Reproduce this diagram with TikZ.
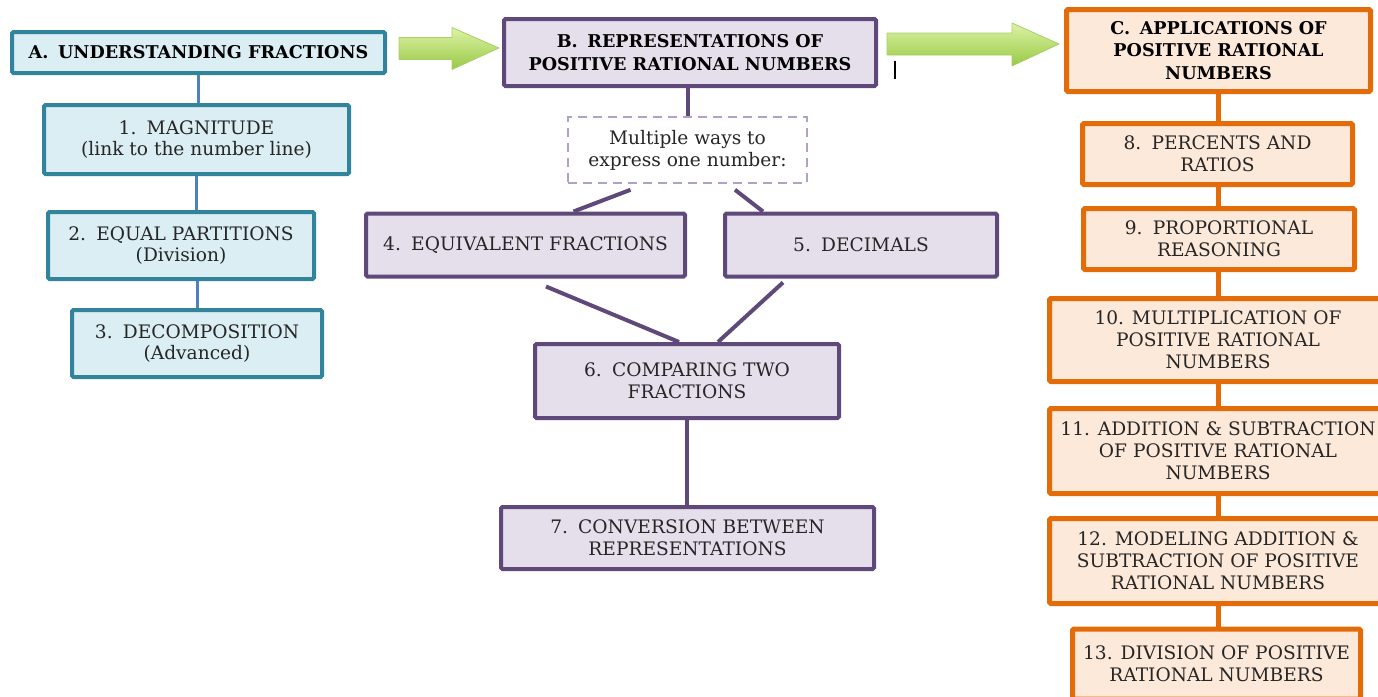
\documentclass[tikz,border=0pt]{standalone}
\usepackage{fontspec}
\setmainfont{DejaVu Serif}
\usetikzlibrary{calc,backgrounds}

\definecolor{tealline}{HTML}{31849B}
\definecolor{tealfill}{HTML}{DAEEF3}
\definecolor{bluelink}{HTML}{4F81BD}
\definecolor{purpline}{HTML}{5F497A}
\definecolor{purpfill}{HTML}{E5DFEC}
\definecolor{purpdash}{HTML}{B2A1C7}
\definecolor{orgline}{HTML}{E36C09}
\definecolor{orgfill}{HTML}{FDE9D9}
\definecolor{txt}{HTML}{262626}
\definecolor{greentop}{HTML}{DDF3A6}
\definecolor{greenbot}{HTML}{98C944}
\definecolor{greenedge}{HTML}{A9CF6A}

\tikzset{
  box/.style={draw, rounded corners=1.5pt, align=center, inner sep=0pt,
    text=txt, font=\fontsize{18.6}{21.8}\selectfont},
  headbox/.style={box, font=\fontsize{17.6}{22.5}\selectfont\bfseries, text=black},
  tealbox/.style={draw=tealline, fill=tealfill, line width=4pt},
  purpbox/.style={draw=purpline, fill=purpfill, line width=4pt},
  orgbox/.style={draw=orgline, fill=orgfill, line width=5pt},
  notebox/.style={box, draw=purpdash, line width=1.6pt, dash pattern=on 9pt off 6pt,
    rounded corners=0pt, fill=white},
  bluelinkline/.style={draw=bluelink, line width=3pt},
  purplinkline/.style={draw=purpline, line width=4pt},
  orglinkline/.style={draw=orgline, line width=5pt},
  blockarrow/.style={top color=greentop, bottom color=greenbot, draw=greenedge,
    line width=0.8pt, line join=round},
}

\begin{document}
\begin{tikzpicture}[x=1pt, y=-1pt]
\useasboundingbox (0,0) rectangle (1378,696);

% ---- column A: understanding fractions
\node[headbox, tealbox, minimum width=373, minimum height=41] (a) at (198.5,52.5)
  {A.\hspace{0.55em}UNDERSTANDING FRACTIONS};
\node[box, tealbox, minimum width=305, minimum height=69] (n1) at (196.5,139.5)
  {1.\hspace{0.55em}MAGNITUDE\\(link to the number line)};
\node[box, tealbox, minimum width=266, minimum height=67] (n2) at (181,245.5)
  {2.\hspace{0.55em}EQUAL PARTITIONS\\(Division)};
\node[box, tealbox, minimum width=250, minimum height=67] (n3) at (197,343.5)
  {3.\hspace{0.55em}DECOMPOSITION\\(Advanced)};

% ---- column B: representations
\node[headbox, purpbox, minimum width=372, minimum height=67] (b) at (690,52.5)
  {B.\hspace{0.55em}REPRESENTATIONS OF\\POSITIVE RATIONAL NUMBERS};
\node[notebox, minimum width=239, minimum height=66] (d) at (687.5,150)
  {Multiple ways to\\express one number:};
\node[box, purpbox, minimum width=319, minimum height=63] (n4) at (525.5,245)
  {4.\hspace{0.55em}EQUIVALENT FRACTIONS};
\node[box, purpbox, minimum width=272, minimum height=63] (n5) at (861,245)
  {5.\hspace{0.55em}DECIMALS};
\node[box, purpbox, minimum width=304, minimum height=74] (n6) at (687,381)
  {6.\hspace{0.55em}COMPARING TWO\\FRACTIONS};
\node[box, purpbox, minimum width=373, minimum height=62] (n7) at (687.5,538)
  {7.\hspace{0.55em}CONVERSION BETWEEN\\REPRESENTATIONS};

% ---- column C: applications
\node[headbox, orgbox, minimum width=304, minimum height=82] (c) at (1218.5,50.5)
  {C.\hspace{0.55em}APPLICATIONS OF\\POSITIVE RATIONAL\\NUMBERS};
\node[box, orgbox, minimum width=270, minimum height=61] (n8) at (1217.5,154)
  {8.\hspace{0.55em}PERCENTS AND\\RATIOS};
\node[box, orgbox, minimum width=271, minimum height=61] (n9) at (1219,239)
  {9.\hspace{0.55em}PROPORTIONAL\\REASONING};
\node[box, orgbox, minimum width=337, minimum height=83] (n10) at (1218,340)
  {10. MULTIPLICATION OF\\POSITIVE RATIONAL\\NUMBERS};
\node[box, orgbox, minimum width=337, minimum height=85] (n11) at (1218,451)
  {11. ADDITION \& SUBTRACTION\\OF POSITIVE RATIONAL\\NUMBERS};
\node[box, orgbox, minimum width=337, minimum height=85] (n12) at (1218,561)
  {12. MODELING ADDITION \&\\SUBTRACTION OF POSITIVE\\RATIONAL NUMBERS};
\node[box, orgbox, minimum width=288, minimum height=70] (n13) at (1216.5,664)
  {13. DIVISION OF POSITIVE\\RATIONAL NUMBERS};

% ---- links, kept behind the boxes
\begin{scope}[on background layer]
  \draw[bluelinkline] (a.south) -- (a.south |- n1.north);
  \draw[bluelinkline] (n1.south) -- (n1.south |- n2.north);
  \draw[bluelinkline] (n3.north |- n2.south) -- (n3.north);

  \draw[purplinkline] (d.north |- b.south) -- (d.north);
  \draw[purplinkline] ($(d.south)+(-57,6)$) -- ($(n4.north)+(48,0)$);
  \draw[purplinkline] ($(d.south)+(47.5,6)$) -- ($(n5.north)+(-98,0)$);
  \draw[purplinkline] ($(n4.south)+(20.5,8)$) -- ($(n6.north)+(-8,0)$);
  \draw[purplinkline] ($(n5.south)+(-78,4)$) -- ($(n6.north)+(31,0)$);
  \draw[purplinkline] (n6.south) -- (n6.south |- n7.north);

  \draw[orglinkline] (c.south) -- (c.south |- n8.north);
  \draw[orglinkline] (n8.south -| c.south) -- (c.south |- n9.north);
  \draw[orglinkline] (n9.south -| c.south) -- (c.south |- n10.north);
  \draw[orglinkline] (n10.south -| c.south) -- (c.south |- n11.north);
  \draw[orglinkline] (n11.south -| c.south) -- (c.south |- n12.north);
  \draw[orglinkline] (n12.south -| c.south) -- (c.south |- n13.north);
\end{scope}

% ---- block arrows leading from one strand to the next
\path[blockarrow] ($(a.east)+(12,-15)$) coordinate (ab0)
  -- ++(53,0) -- ++(0,-10) -- ($(b.west)+(-3,-4.5)$) -- ($(ab0)+(53,32)$)
  -- ++(0,-10) -- ($(ab0)+(0,22)$) -- cycle;
\path[blockarrow] ($(b.east)+(9,-19.5)$) coordinate (bc0)
  -- ++(125,0) -- ++(0,-10) -- ($(c.west)+(-5,-6.5)$) -- ($(bc0)+(125,33)$)
  -- ++(0,-11) -- ($(bc0)+(0,22)$) -- cycle;

% stray text cursor beside box B
\draw[black, line width=1.1pt] ($(b.east)+(17,8)$) -- ++(0,18);
\end{tikzpicture}
\end{document}
